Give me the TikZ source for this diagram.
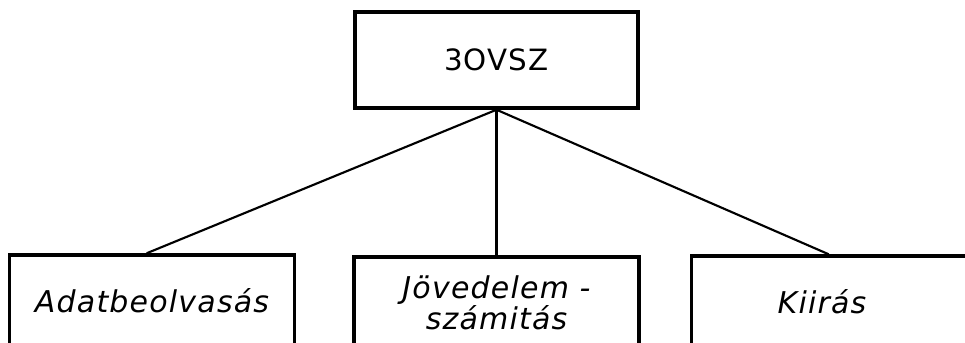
\documentclass[tikz,border=0pt]{standalone}
\usepackage{fontspec}
\usepackage{tikz}
\usetikzlibrary{positioning,calc}
\newfontfamily\chartfont[LetterSpace=4]{DejaVu Sans}
\tikzset{
    topbox/.style={draw=black, line width=2.6pt, minimum width=212pt, minimum height=72pt, font=\chartfont\fontsize{22}{24}\selectfont},
    subbox/.style={draw=black, line width=2.6pt, minimum width=214pt, minimum height=69pt, align=center, font=\chartfont\itshape\fontsize{22.5}{19.5}\selectfont},
    wire/.style={draw=black, line width=1.6pt}
}
\begin{document}
\begin{tikzpicture}[x=0.75pt, y=-0.75pt]
\useasboundingbox (0,0) rectangle (965,343);
\node[topbox] (prog) at (496.5,60) {3OVSZ};
\node[subbox] (read) at (152,301) {Adatbeolvasás};
\node[subbox] (calc) at (496.5,303) {Jövedelem -\\számitás};
\node[subbox] (print) at (834,302) {Kiirás\hspace*{18pt}};
\draw[wire] (prog.south) -- ([xshift=-4pt]read.north);
\draw[wire] (prog.south) -- (calc.north);
\draw[wire] (prog.south) -- ([xshift=-4pt]print.north);
\end{tikzpicture}
\end{document}
